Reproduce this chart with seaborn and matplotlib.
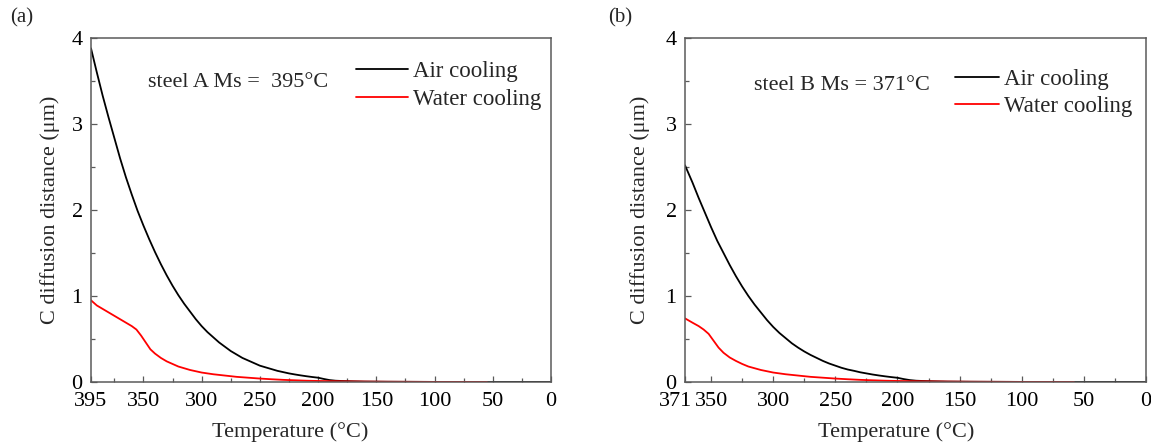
import numpy as np
import pandas as pd
import matplotlib
matplotlib.use("Agg")
import matplotlib.pyplot as plt
import matplotlib.transforms as mtransforms
import seaborn as sns
from matplotlib.ticker import MultipleLocator

# ---------------- data ----------------
temp_air_a = [395, 390, 385, 380, 375, 370, 365, 360, 355, 350, 345, 340, 335, 330, 325, 320,
              315, 310, 305, 300, 295, 290, 285, 280, 275, 270, 265, 260, 255, 250, 245, 240,
              235, 230, 225, 220, 215, 210, 205, 200, 195, 190, 185, 180, 170, 160, 140, 120,
              100, 50, 0]
air_a = [3.88, 3.60, 3.33, 3.08, 2.84, 2.60, 2.38, 2.18, 1.99, 1.82, 1.66, 1.51, 1.37, 1.24, 1.12, 1.01,
         0.91, 0.82, 0.73, 0.65, 0.58, 0.52, 0.46, 0.41, 0.36, 0.32, 0.28, 0.25, 0.22, 0.19, 0.17, 0.15,
         0.13, 0.115, 0.10, 0.088, 0.077, 0.067, 0.058, 0.05, 0.035, 0.022, 0.015, 0.012, 0.008, 0.005, 0.003, 0.002,
         0.001, 0.0005, 0.0]

temp_water_a = [395, 390, 385, 380, 375, 370, 365, 360, 356, 352, 348, 344, 340, 335, 330, 325, 320,
                315, 310, 305, 300, 290, 280, 270, 260, 250, 240, 230, 220, 210, 200, 180, 160, 140,
                120, 100, 80, 55]
water_a = [0.95, 0.89, 0.85, 0.81, 0.77, 0.73, 0.69, 0.65, 0.61, 0.54, 0.46, 0.38, 0.33, 0.28, 0.24, 0.21, 0.18,
           0.16, 0.14, 0.125, 0.11, 0.09, 0.075, 0.06, 0.05, 0.04, 0.032, 0.025, 0.02, 0.015, 0.012, 0.008, 0.005, 0.003,
           0.002, 0.001, 0.001, 0.0]

temp_air_b = [371, 365, 360, 355, 350, 345, 340, 335, 330, 325, 320,
              315, 310, 305, 300, 295, 290, 285, 280, 275, 270, 265, 260, 255, 250, 245, 240,
              235, 230, 225, 220, 215, 210, 205, 200, 195, 190, 185, 180, 170, 160, 140, 120,
              100, 50, 0]
air_b = [2.52, 2.32, 2.14, 1.97, 1.80, 1.64, 1.50, 1.36, 1.23, 1.11, 1.00,
         0.90, 0.81, 0.72, 0.64, 0.57, 0.51, 0.45, 0.40, 0.355, 0.315, 0.28, 0.245, 0.215, 0.19, 0.165, 0.145,
         0.13, 0.113, 0.10, 0.087, 0.076, 0.066, 0.057, 0.049, 0.034, 0.022, 0.015, 0.012, 0.008, 0.005, 0.003, 0.002,
         0.001, 0.0005, 0.0]

temp_water_b = [371, 365, 360, 356, 352, 348, 344, 340, 335, 330, 325, 320,
                315, 310, 305, 300, 290, 280, 270, 260, 250, 240, 230, 220, 210, 200, 180, 160, 140,
                120, 100, 80, 58]
water_b = [0.74, 0.69, 0.65, 0.61, 0.56, 0.48, 0.40, 0.34, 0.285, 0.245, 0.21, 0.18,
           0.16, 0.14, 0.125, 0.11, 0.09, 0.075, 0.06, 0.05, 0.04, 0.032, 0.025, 0.02, 0.015, 0.012, 0.008, 0.005, 0.003,
           0.002, 0.001, 0.001, 0.0]

series_names = ["Air cooling", "Water cooling"]
panel_labels = ["(a)", "(b)"]
notes = ["steel A Ms =  395\u00b0C", "steel B Ms = 371\u00b0C"]
ms_temps = [395, 371]
xtick_a = [395, 350, 300, 250, 200, 150, 100, 50, 0]
xtick_b = [371, 350, 300, 250, 200, 150, 100, 50, 0]
yticks = [0, 1, 2, 3, 4]
xlabel = "Temperature (\u00b0C)"
ylabel = "C diffusion distance (\u03bcm)"

# ---------------- style ----------------
sns.set_theme(style="ticks")
plt.rcParams["font.family"] = ["Liberation Serif", "DejaVu Serif"]
FS = 16
spine_c = "#5a5a5a"

fig = plt.figure(figsize=(11.51, 4.45), dpi=100)
ax_a = fig.add_axes([91 / 1151, 63 / 445, 460 / 1151, 344 / 445])
ax_b = fig.add_axes([685 / 1151, 63 / 445, 461 / 1151, 344 / 445])

palette = {"Air cooling": "black", "Water cooling": "red"}


def make_df(ta, va, tw, vw):
    d1 = pd.DataFrame({"T": ta, "v": va, "Cooling": series_names[0]})
    d2 = pd.DataFrame({"T": tw, "v": vw, "Cooling": series_names[1]})
    return pd.concat([d1, d2], ignore_index=True)


panels = [
    (ax_a, make_df(temp_air_a, air_a, temp_water_a, water_a), xtick_a, 0,
     dict(text_xy=(0.124, 0.870), leg_anchor=(0.978, 0.932), hl=2.25, xl=(0.433, -0.118), yl=(-0.068, 0.5))),
    (ax_b, make_df(temp_air_b, air_b, temp_water_b, water_b), xtick_b, 1,
     dict(text_xy=(0.150, 0.862), leg_anchor=(0.970, 0.911), hl=1.9, xl=(0.458, -0.118), yl=(-0.075, 0.5))),
]

for ax, df, xt, i, opt in panels:
    sns.lineplot(data=df, x="T", y="v", hue="Cooling", hue_order=series_names,
                 palette=palette, linewidth=1.3, ax=ax, sort=False, estimator=None)
    ax.set_xlim(ms_temps[i], 0)
    ax.set_ylim(0, 4)
    ax.set_xticks(xt)
    ax.set_xticklabels([str(t) for t in xt])
    ax.set_yticks(yticks)
    ax.xaxis.set_minor_locator(MultipleLocator(25))
    ax.yaxis.set_minor_locator(MultipleLocator(0.5))
    ax.tick_params(axis="both", which="both", direction="in", colors=spine_c,
                   labelcolor="black", labelsize=FS, top=False, right=False)
    ax.tick_params(axis="both", which="major", length=4, width=0.9)
    ax.tick_params(axis="both", which="minor", length=3, width=0.9)
    ax.tick_params(axis="x", which="major", pad=7)
    ax.tick_params(axis="y", which="major", pad=6)
    for s in ax.spines.values():
        s.set_visible(True)
        s.set_color(spine_c)
        s.set_linewidth(1.1)
    ax.set_xlabel(xlabel, fontsize=FS)
    ax.set_ylabel(ylabel, fontsize=FS)
    ax.xaxis.set_label_coords(*opt["xl"])
    ax.yaxis.set_label_coords(*opt["yl"])
    ax.text(opt["text_xy"][0], opt["text_xy"][1], notes[i], transform=ax.transAxes,
            fontsize=FS, va="center", ha="left")
    handles, labels = ax.get_legend_handles_labels()
    ax.legend(handles=handles, labels=labels, loc="upper right", bbox_to_anchor=opt["leg_anchor"],
              frameon=False, fontsize=FS + 0.5, handlelength=opt["hl"], handletextpad=0.22,
              labelspacing=0.29, borderaxespad=0, borderpad=0)
    ax.set_facecolor("white")

# panel (b): the first tick label sits slightly left of its tick, as in the reference
first_lbl = ax_b.get_xticklabels()[0]
first_lbl.set_transform(first_lbl.get_transform() +
                        mtransforms.ScaledTranslation(-9 / 100, 0, fig.dpi_scale_trans))

fig.text(10 / 1151, 1 - 18 / 445, panel_labels[0], fontsize=FS - 1, va="center", ha="left")
fig.text(608 / 1151, 1 - 18 / 445, panel_labels[1], fontsize=FS - 1, va="center", ha="left")

fig.savefig("out.png", dpi=100, facecolor="white")
